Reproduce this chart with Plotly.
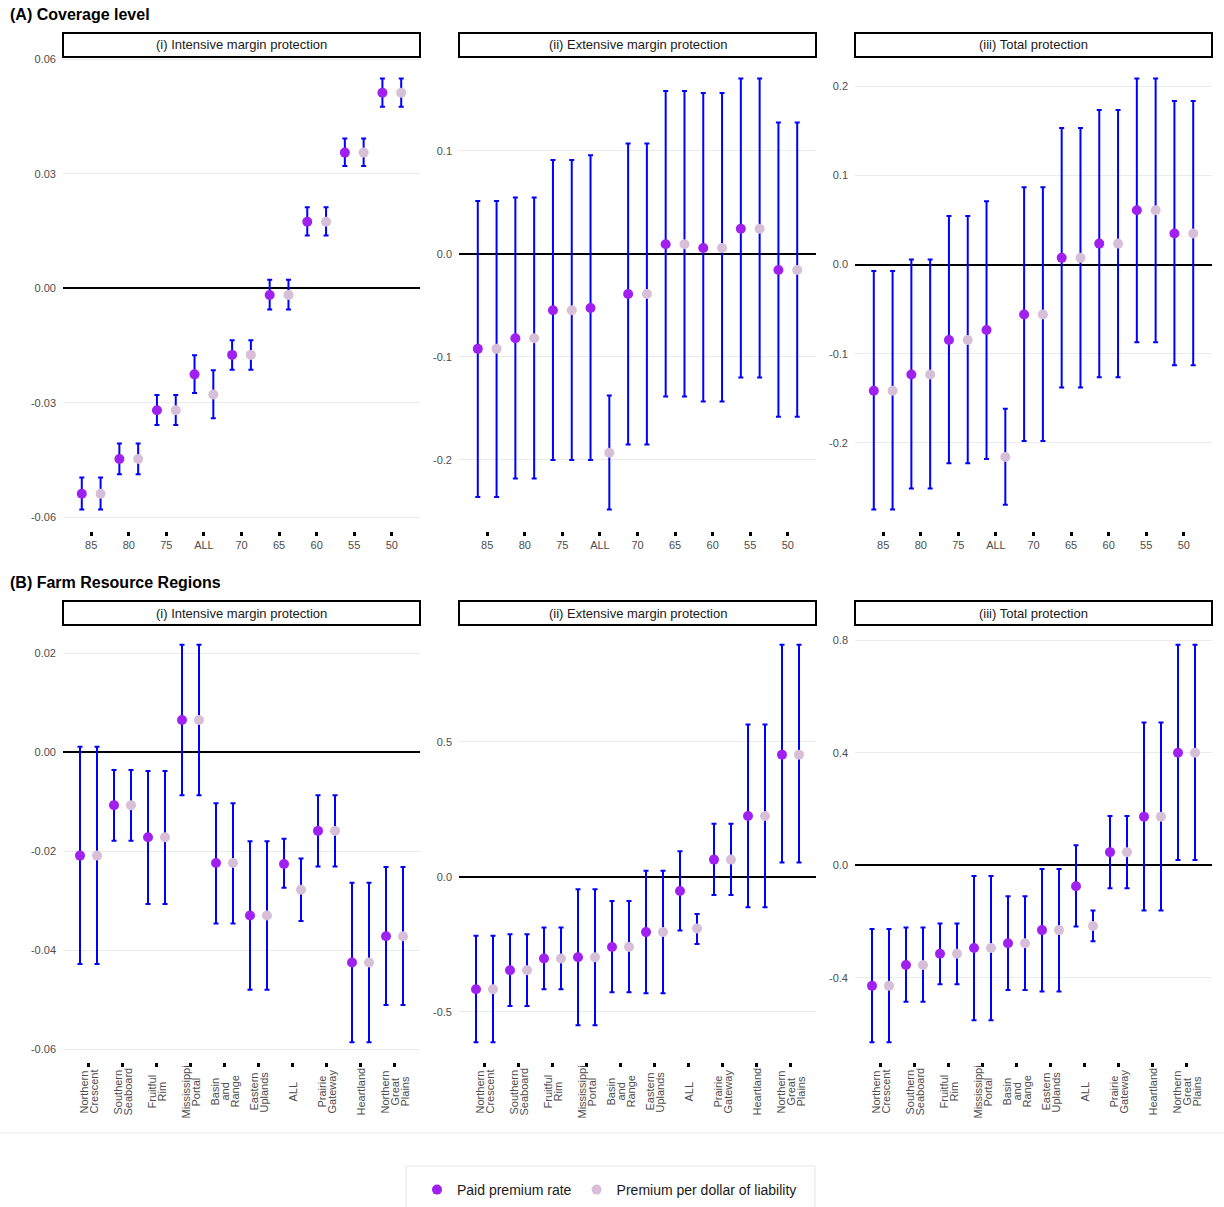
import numpy as np
import plotly.graph_objects as go
from plotly.subplots import make_subplots

# ---------------- data ----------------
coverage_levels = ["85", "80", "75", "ALL", "70", "65", "60", "55", "50"]
regions = ["Northern Crescent", "Southern Seaboard", "Fruitful Rim", "Mississippi Portal",
           "Basin and Range", "Eastern Uplands", "ALL", "Prairie Gateway", "Heartland",
           "Northern Great Plains"]
# how each region label is broken into lines
region_label_lines = [["Northern", "Crescent"], ["Southern", "Seaboard"], ["Fruitful", "Rim"],
                      ["Mississippi", "Portal"], ["Basin", "and", "Range"], ["Eastern", "Uplands"],
                      ["ALL"], ["Prairie", "Gateway"], ["Heartland"], ["Northern", "Great", "Plains"]]

# (A)(i) Intensive margin protection
a1_paid    = [-0.0538, -0.0447, -0.0319, -0.0225, -0.0174, -0.0017, 0.0175, 0.0356, 0.0513]
a1_paid_lo = [-0.0579, -0.0487, -0.0358, -0.0274, -0.0213, -0.0055, 0.0139, 0.0321, 0.0476]
a1_paid_hi = [-0.0495, -0.0406, -0.0279, -0.0175, -0.0136, 0.0023, 0.0213, 0.0393, 0.0550]
a1_liab    = [-0.0538, -0.0447, -0.0319, -0.0278, -0.0174, -0.0017, 0.0175, 0.0356, 0.0513]
a1_liab_lo = [-0.0579, -0.0487, -0.0358, -0.0340, -0.0213, -0.0055, 0.0139, 0.0321, 0.0476]
a1_liab_hi = [-0.0495, -0.0406, -0.0279, -0.0214, -0.0136, 0.0023, 0.0213, 0.0393, 0.0550]

# (A)(ii) Extensive margin protection
a2_paid    = [-0.0922, -0.0820, -0.0548, -0.0525, -0.0390, 0.0092, 0.0056, 0.0243, -0.0158]
a2_paid_lo = [-0.2360, -0.2180, -0.2000, -0.2000, -0.1850, -0.1385, -0.1434, -0.1200, -0.1580]
a2_paid_hi = [0.0512, 0.0545, 0.0909, 0.0955, 0.1070, 0.1580, 0.1560, 0.1700, 0.1273]
a2_liab    = [-0.0922, -0.0820, -0.0548, -0.1930, -0.0390, 0.0092, 0.0056, 0.0243, -0.0158]
a2_liab_lo = [-0.2360, -0.2180, -0.2000, -0.2480, -0.1850, -0.1385, -0.1434, -0.1200, -0.1580]
a2_liab_hi = [0.0512, 0.0545, 0.0909, -0.1375, 0.1070, 0.1580, 0.1560, 0.1700, 0.1273]

# (A)(iii) Total protection
a3_paid    = [-0.1417, -0.1234, -0.0846, -0.0735, -0.0560, 0.0076, 0.0236, 0.0610, 0.0350]
a3_paid_lo = [-0.2750, -0.2514, -0.2232, -0.2183, -0.1980, -0.1379, -0.1265, -0.0872, -0.1131]
a3_paid_hi = [-0.0072, 0.0057, 0.0545, 0.0712, 0.0869, 0.1535, 0.1737, 0.2090, 0.1838]
a3_liab    = [-0.1417, -0.1234, -0.0846, -0.2160, -0.0560, 0.0076, 0.0236, 0.0610, 0.0350]
a3_liab_lo = [-0.2750, -0.2514, -0.2232, -0.2697, -0.1980, -0.1379, -0.1265, -0.0872, -0.1131]
a3_liab_hi = [-0.0072, 0.0057, 0.0545, -0.1620, 0.0869, 0.1535, 0.1737, 0.2090, 0.1838]

# (B)(i) Intensive margin protection
b1_paid    = [-0.0209, -0.0107, -0.0172, 0.0065, -0.0224, -0.0330, -0.0226, -0.0159, -0.0425, -0.0372]
b1_paid_lo = [-0.0428, -0.0179, -0.0307, -0.0087, -0.0346, -0.0480, -0.0274, -0.0231, -0.0586, -0.0511]
b1_paid_hi = [0.0011, -0.0036, -0.0038, 0.0217, -0.0103, -0.0180, -0.0175, -0.0087, -0.0264, -0.0232]
b1_liab    = [-0.0209, -0.0107, -0.0172, 0.0065, -0.0224, -0.0330, -0.0278, -0.0159, -0.0425, -0.0372]
b1_liab_lo = [-0.0428, -0.0179, -0.0307, -0.0087, -0.0346, -0.0480, -0.0341, -0.0231, -0.0586, -0.0511]
b1_liab_hi = [0.0011, -0.0036, -0.0038, 0.0217, -0.0103, -0.0180, -0.0215, -0.0087, -0.0264, -0.0232]

# (B)(ii) Extensive margin protection
b2_paid    = [-0.4168, -0.3467, -0.3030, -0.2980, -0.2600, -0.2050, -0.0526, 0.0638, 0.2253, 0.4530]
b2_paid_lo = [-0.6130, -0.4790, -0.4168, -0.5507, -0.4280, -0.4318, -0.1990, -0.0676, -0.1126, 0.0526]
b2_paid_hi = [-0.2190, -0.2128, -0.1877, -0.0463, -0.0901, 0.0225, 0.0951, 0.1965, 0.5645, 0.8600]
b2_liab    = [-0.4168, -0.3467, -0.3030, -0.2980, -0.2600, -0.2050, -0.1915, 0.0638, 0.2253, 0.4530]
b2_liab_lo = [-0.6130, -0.4790, -0.4168, -0.5507, -0.4280, -0.4318, -0.2490, -0.0676, -0.1126, 0.0526]
b2_liab_hi = [-0.2190, -0.2128, -0.1877, -0.0463, -0.0901, 0.0225, -0.1377, 0.1965, 0.5645, 0.8600]

# (B)(iii) Total protection
b3_paid    = [-0.4288, -0.3544, -0.3147, -0.2943, -0.2775, -0.2306, -0.0745, 0.0468, 0.1730, 0.4000]
b3_paid_lo = [-0.6290, -0.4853, -0.4228, -0.5514, -0.4432, -0.4492, -0.2174, -0.0817, -0.1610, 0.0192]
b3_paid_hi = [-0.2270, -0.2210, -0.2066, -0.0384, -0.1105, -0.0132, 0.0709, 0.1754, 0.5080, 0.7840]
b3_liab    = [-0.4288, -0.3544, -0.3147, -0.2943, -0.2775, -0.2306, -0.2162, 0.0468, 0.1730, 0.4000]
b3_liab_lo = [-0.6290, -0.4853, -0.4228, -0.5514, -0.4432, -0.4492, -0.2700, -0.0817, -0.1610, 0.0192]
b3_liab_hi = [-0.2270, -0.2210, -0.2066, -0.0384, -0.1105, -0.0132, -0.1610, 0.1754, 0.5080, 0.7840]

# y tick labels
a1_ticks = [0.06, 0.03, 0.0, -0.03, -0.06]
a1_ticktext = ["0.06", "0.03", "0.00", "-0.03", "-0.06"]
a2_ticks = [0.1, 0.0, -0.1, -0.2]
a2_ticktext = ["0.1", "0.0", "-0.1", "-0.2"]
a3_ticks = [0.2, 0.1, 0.0, -0.1, -0.2]
a3_ticktext = ["0.2", "0.1", "0.0", "-0.1", "-0.2"]
b1_ticks = [0.02, 0.0, -0.02, -0.04, -0.06]
b1_ticktext = ["0.02", "0.00", "-0.02", "-0.04", "-0.06"]
b2_ticks = [0.5, 0.0, -0.5]
b2_ticktext = ["0.5", "0.0", "-0.5"]
b3_ticks = [0.8, 0.4, 0.0, -0.4]
b3_ticktext = ["0.8", "0.4", "0.0", "-0.4"]

strip_titles = ["(i) Intensive margin protection", "(ii) Extensive margin protection",
                "(iii) Total protection"]
series_names = ["Paid premium rate", "Premium per dollar of liability"]

# ---------------- layout geometry (px) ----------------
W, H = 1224, 1207
COLS = [(63, 420), (459, 816), (855, 1212)]
ROWS = [(57, 531), (625, 1062)]
STRIPS = [(33, 57), (601, 625)]
PAID_COLOR = "#A020F0"
LIAB_COLOR = "#D8BFD8"
BAR_COLOR = "#0000FF"
FONT = "Liberation Sans, Arial, sans-serif"
LINE_GAP = 10  # px between lines of rotated region labels


def fx(p):
    return p / W


def fy(p):
    return 1 - p / H


panels = [
    (1, 1, coverage_levels, a1_paid, a1_paid_lo, a1_paid_hi, a1_liab, a1_liab_lo, a1_liab_hi, a1_ticks, a1_ticktext),
    (1, 2, coverage_levels, a2_paid, a2_paid_lo, a2_paid_hi, a2_liab, a2_liab_lo, a2_liab_hi, a2_ticks, a2_ticktext),
    (1, 3, coverage_levels, a3_paid, a3_paid_lo, a3_paid_hi, a3_liab, a3_liab_lo, a3_liab_hi, a3_ticks, a3_ticktext),
    (2, 1, regions, b1_paid, b1_paid_lo, b1_paid_hi, b1_liab, b1_liab_lo, b1_liab_hi, b1_ticks, b1_ticktext),
    (2, 2, regions, b2_paid, b2_paid_lo, b2_paid_hi, b2_liab, b2_liab_lo, b2_liab_hi, b2_ticks, b2_ticktext),
    (2, 3, regions, b3_paid, b3_paid_lo, b3_paid_hi, b3_liab, b3_liab_lo, b3_liab_hi, b3_ticks, b3_ticktext),
]

fig = make_subplots(rows=2, cols=3)
annotations = []
shapes = []

for k, (r, c, cats, p, plo, phi, l, llo, lhi, yt, ytt) in enumerate(panels):
    n = len(cats)
    xpos = np.arange(1, n + 1)
    p, plo, phi = np.array(p), np.array(plo), np.array(phi)
    l, llo, lhi = np.array(l), np.array(llo), np.array(lhi)
    for (est, lo, hi, col, name, off) in [(p, plo, phi, PAID_COLOR, series_names[0], -0.25),
                                           (l, llo, lhi, LIAB_COLOR, series_names[1], 0.25)]:
        fig.add_trace(go.Scatter(
            x=xpos + off, y=est, mode="markers", name=name,
            legendgroup=name, showlegend=(k == 0),
            marker=dict(color=col, size=10),
            error_y=dict(type="data", symmetric=False, array=hi - est, arrayminus=est - lo,
                         color=BAR_COLOR, thickness=2, width=2.5),
            customdata=cats,
            hovertemplate="%{customdata}: %{y:.3f}<extra>" + name + "</extra>",
        ), row=r, col=c)

    lo_all = min(plo.min(), llo.min())
    hi_all = max(phi.max(), lhi.max())
    pad = 0.05 * (hi_all - lo_all)
    idx = k + 1
    xa = "xaxis" if idx == 1 else f"xaxis{idx}"
    ya = "yaxis" if idx == 1 else f"yaxis{idx}"
    x0, x1 = COLS[c - 1]
    y0, y1 = ROWS[r - 1]
    fig.layout[xa].update(
        domain=[fx(x0), fx(x1)], range=[0.25, n + 0.75],
        tickmode="array", tickvals=list(xpos), ticktext=cats if r == 1 else None,
        showticklabels=(r == 1), ticks="outside", ticklen=4, tickwidth=3, tickcolor="#000000",
        showgrid=False, zeroline=False, showline=False,
        tickfont=dict(size=11, color="#4D4D4D", family=FONT),
    )
    fig.layout[ya].update(
        domain=[fy(y1), fy(y0)], range=[lo_all - pad, hi_all + pad],
        tickmode="array", tickvals=yt, ticktext=ytt,
        showgrid=True, gridcolor="#EBEBEB", gridwidth=1.2,
        zeroline=True, zerolinecolor="#000000", zerolinewidth=1.6,
        showline=False, ticks="", ticklabelstandoff=6,
        tickfont=dict(size=11, color="#4D4D4D", family=FONT),
    )
    # strip box
    s0, s1 = STRIPS[r - 1]
    shapes.append(dict(type="rect", xref="paper", yref="paper",
                       x0=fx(x0), x1=fx(x1), y0=fy(s1), y1=fy(s0),
                       line=dict(color="#000000", width=2), fillcolor="white", layer="above"))
    annotations.append(dict(xref="paper", yref="paper", x=fx((x0 + x1) / 2), y=fy((s0 + s1) / 2),
                            text=strip_titles[c - 1], showarrow=False, xanchor="center",
                            yanchor="middle", font=dict(size=13, color="#1A1A1A", family=FONT)))
    # rotated region labels for row B (one annotation per line, tight line spacing)
    if r == 2:
        xref = "x" if idx == 1 else f"x{idx}"
        for xi, lines in zip(xpos, region_label_lines):
            m = len(lines)
            for j, word in enumerate(lines):
                annotations.append(dict(xref=xref, yref="paper", x=xi, y=fy(1092), text=word,
                                        textangle=-90, showarrow=False, xanchor="center",
                                        yanchor="middle", xshift=(j - (m - 1) / 2) * LINE_GAP,
                                        font=dict(size=11, color="#4D4D4D", family=FONT)))

# section titles
annotations.append(dict(xref="paper", yref="paper", x=fx(8), y=fy(15), text="<b>(A) Coverage level</b>",
                        showarrow=False, xanchor="left", yanchor="middle",
                        font=dict(size=16, color="#000000", family=FONT)))
annotations.append(dict(xref="paper", yref="paper", x=fx(8), y=fy(582), text="<b>(B) Farm Resource Regions</b>",
                        showarrow=False, xanchor="left", yanchor="middle",
                        font=dict(size=16, color="#000000", family=FONT)))

# separator line and legend box
shapes.append(dict(type="line", xref="paper", yref="paper", x0=0, x1=1, y0=fy(1133), y1=fy(1133),
                   line=dict(color="#EBEBEB", width=1.2)))
shapes.append(dict(type="rect", xref="paper", yref="paper", x0=fx(406), x1=fx(815), y0=fy(1215), y1=fy(1166),
                   line=dict(color="#E5E5E5", width=1), fillcolor="rgba(0,0,0,0)"))

fig.update_layout(
    width=W, height=H,
    margin=dict(l=0, r=0, t=0, b=0, autoexpand=False),
    paper_bgcolor="white", plot_bgcolor="white",
    font=dict(family=FONT),
    showlegend=True,
    legend=dict(orientation="h", x=fx(417), xanchor="left", y=fy(1174), yanchor="top",
                bgcolor="rgba(0,0,0,0)", borderwidth=0,
                font=dict(size=14, color="#1A1A1A", family=FONT)),
    annotations=annotations,
    shapes=shapes,
)

fig.write_html("out.html")
